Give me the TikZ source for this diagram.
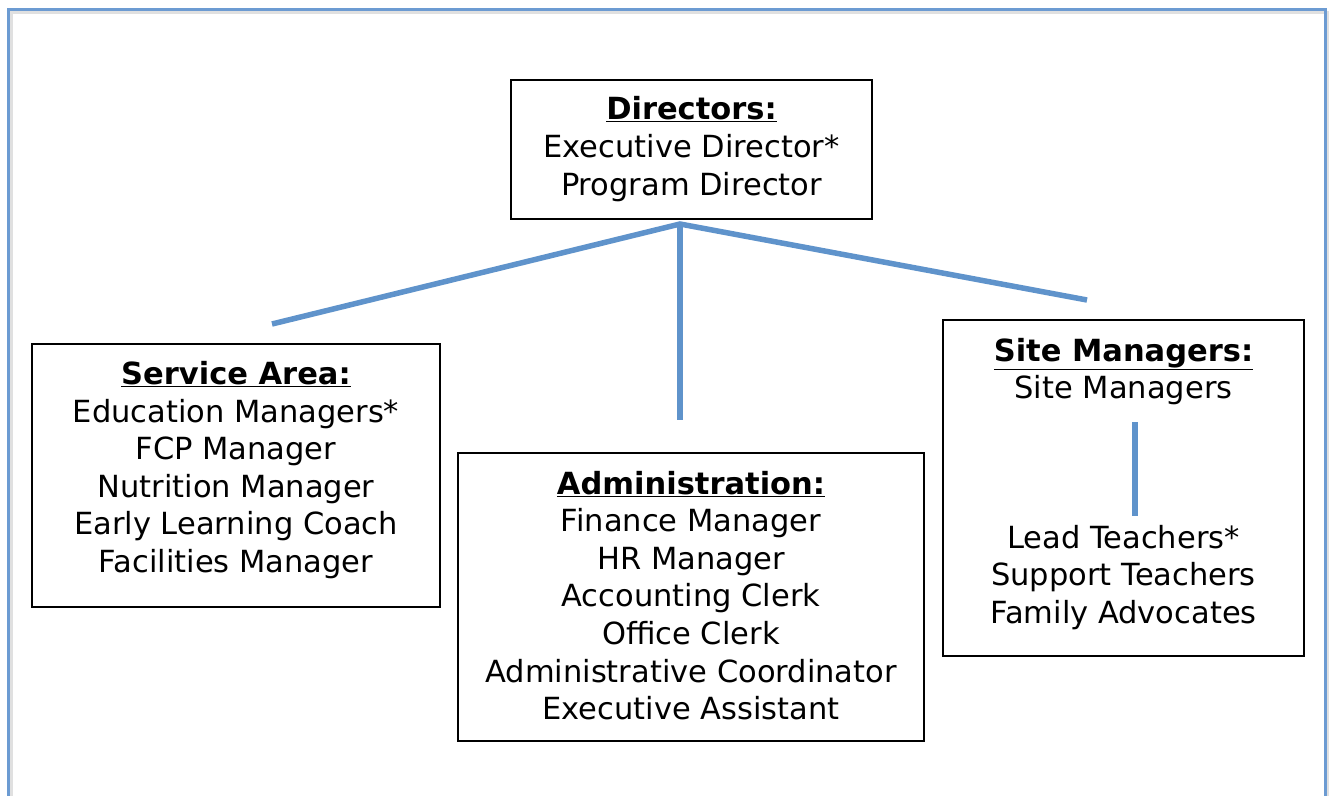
\documentclass[tikz,border=0pt]{standalone}
\usepackage{fontspec}
\setmainfont{DejaVu Sans}
\usetikzlibrary{calc}
\definecolor{frameblue}{HTML}{6C9BD2}
\definecolor{linkblue}{HTML}{5F93CB}
\tikzset{
  box/.style={draw=black, line width=1.8pt, fill=white, inner sep=0pt},
  txt/.style={align=center, font=\fontsize{30.5}{37.6}\selectfont, inner sep=0pt},
  link/.style={draw=linkblue, line width=5.5pt},
}
\newcommand{\hd}[1]{\underline{\textbf{#1}}}
\begin{document}
\begin{tikzpicture}[x=1pt,y=-1pt]
\useasboundingbox (0,0) rectangle (1329,795);
\fill[white] (0,0) rectangle (1329,795);
% outer frame
\draw[black!12, line width=3pt] (11,830) -- (11,12) -- (1328,12) -- (1328,830);
\draw[frameblue, line width=2.2pt] (8.5,830) -- (8.5,9.5) -- (1325.5,9.5) -- (1325.5,830);
% boxes
\node[box, minimum width=361pt, minimum height=139pt] (dir) at (691.5,149.5) {};
\node[box, minimum width=408pt, minimum height=263pt] (svc) at (236,475.5) {};
\node[box, minimum width=466pt, minimum height=288pt] (adm) at (691,597) {};
\node[box, minimum width=361pt, minimum height=336pt] (site) at (1123.5,488) {};
% texts
\node[txt] (dirt) at (691.5,149) {\hd{Directors:}\\Executive Director*\\Program Director};
\node[txt] (svct) at (236,470) {\hd{Service Area:}\\Education Managers*\\FCP Manager\\Nutrition Manager\\Early Learning Coach\\Facilities Manager};
\node[txt] (admt) at (691,595.5) {\hd{Administration:}\\Finance Manager\\HR Manager\\Accounting Clerk\\Office Clerk\\Administrative Coordinator\\Executive Assistant};
\node[txt] (sitet) at (1123.5,371.5) {\hd{Site Managers:}\\Site Managers};
\node[txt] (teach) at (1123.5,577.5) {Lead Teachers*\\Support Teachers\\Family Advocates};
% connector coordinates
\coordinate (apex) at (680,224);
\coordinate (lend) at (272,324);
\coordinate (rend) at (1087,300);
\coordinate (vend) at (680,420);
\coordinate (stop) at (1135,422);
\coordinate (sbot) at (1135,516);
% links
\draw[link] (lend) -- (apex) -- (rend);
\draw[link] (apex) -- (vend);
\draw[link] (stop) -- (sbot);
\end{tikzpicture}
\end{document}
